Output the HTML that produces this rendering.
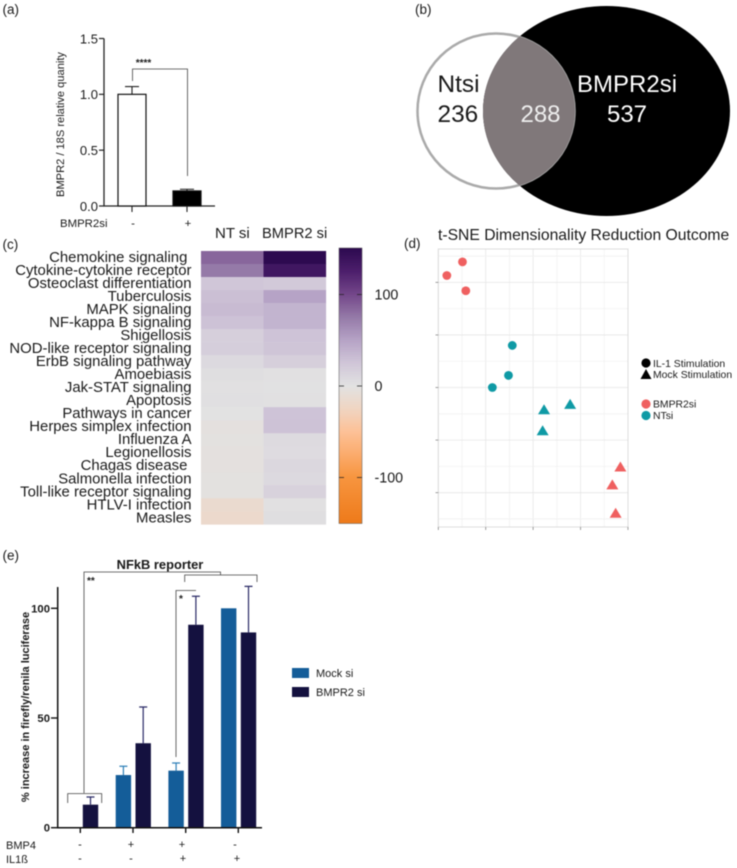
<!DOCTYPE html>
<html>
<head>
<meta charset="utf-8">
<title>BMPR2 figure</title>
<style>
html,body{margin:0;padding:0;background:#fff;}
svg{display:block;filter:blur(0.45px);}
text{font-family:"Liberation Sans",sans-serif;fill:#1a1a1a;}
</style>
</head>
<body>
<svg id="fig" width="737" height="868" viewBox="0 0 737 868" xmlns="http://www.w3.org/2000/svg">
<defs>
<linearGradient id="cbGrad" x1="0" y1="0" x2="0" y2="1"></linearGradient>
<clipPath id="vennClip"><ellipse cx="606.5" cy="111" rx="123.5" ry="105"/></clipPath>
</defs>
<g id="panelA">
<text x="2.5" y="14" font-size="13.5">(a)</text>
<text transform="translate(64,124.5) rotate(-90)" text-anchor="middle" font-size="11.1">BMPR2 / 18S relative quanity</text>
<text x="60" y="227" font-size="11.4">BMPR2si</text>
</g>
<g id="panelB">
<text x="415" y="14" font-size="13.5">(b)</text>
<ellipse cx="606.5" cy="111" rx="123.5" ry="105" fill="#000"/>
<ellipse cx="496" cy="111" rx="78.5" ry="77.5" fill="none" stroke="#aaa" stroke-width="2.5"/>
<ellipse cx="496" cy="111" rx="79" ry="78" fill="#80787a" clip-path="url(#vennClip)"/>
<text x="437.5" y="92" font-size="24.4">Ntsi</text>
<text x="437.5" y="122" font-size="24.4">236</text>
<text x="540.5" y="122" font-size="24" text-anchor="middle" style="fill:#eee">288</text>
<text x="577" y="92" font-size="24" style="fill:#fff">BMPR2si</text>
<text x="627" y="122" font-size="24" text-anchor="middle" style="fill:#fff">537</text>
</g>
<g id="panelC">
<text x="2.5" y="249" font-size="13.5">(c)</text>
<text x="215" y="238" font-size="15">NT si</text>
<text x="262" y="238" font-size="14.7">BMPR2 si</text>
<rect x="339" y="248" width="23" height="275.5" fill="url(#cbGrad)" stroke="#555" stroke-width="0.5"/>
</g>
<g id="panelD">
<text x="404" y="248" font-size="13.5">(d)</text>
<text x="438" y="240" font-size="15.7">t-SNE Dimensionality Reduction Outcome</text>
<circle cx="646" cy="363" r="4.6" fill="#000"/>
<text x="653" y="367" font-size="10.4">IL-1 Stimulation</text>
<path d="M640.5 379 L646 369 L651.5 379 Z" fill="#000"/>
<text x="653" y="378" font-size="10.4">Mock Stimulation</text>
<circle cx="646" cy="404" r="4.6" fill="#ef6060"/>
<text x="653" y="407.5" font-size="10.4">BMPR2si</text>
<circle cx="646" cy="415.5" r="4.6" fill="#0f9aa5"/>
<text x="653" y="419" font-size="10.4">NTsi</text>
</g>
<g id="panelE">
<text x="2.5" y="560" font-size="13.5">(e)</text>
<text x="160" y="569" font-size="12.9" font-weight="bold" text-anchor="middle">NFkB reporter</text>
<text transform="translate(29,707) rotate(-90)" text-anchor="middle" font-size="11" font-weight="bold">% increase in firefly/renila luciferase</text>
<text x="6" y="849" font-size="11">BMP4</text>
<text x="6" y="863" font-size="11">IL1ß</text>
<rect x="292" y="668" width="17" height="10" fill="#145d99"/>
<text x="316" y="677" font-size="11">Mock si</text>
<rect x="292" y="687" width="17" height="10" fill="#14113f"/>
<text x="316" y="696" font-size="11">BMPR2 si</text>
<path d="M84 793 V572 H220.5 V575" fill="none" stroke="#444" stroke-width="0.8"/>
<path d="M67.7 803 V793.6 H101.7 V803" fill="none" stroke="#444" stroke-width="0.8"/>
<path d="M184.7 582 V575 H257 V582" fill="none" stroke="#444" stroke-width="0.8"/>
<path d="M176 757 V590.5 H196" fill="none" stroke="#444" stroke-width="0.8"/>
<text x="87" y="584" font-size="10" font-weight="bold">**</text>
<text x="179" y="602" font-size="10" font-weight="bold">*</text>
</g>
</svg>
<script>
// Panel (a)
const aCategories = ['-', '+'];
const aValues = [1.0, 0.135];
const aErrors = [0.07, 0.015];
const aTicks = ['0.0', '0.5', '1.0', '1.5'];
// Panel (c)
const heatRows = ['Chemokine signaling ', 'Cytokine-cytokine receptor', 'Osteoclast differentiation', 'Tuberculosis', 'MAPK signaling', 'NF-kappa B signaling', 'Shigellosis', 'NOD-like receptor signaling', 'ErbB signaling pathway', 'Amoebiasis', 'Jak-STAT signaling', 'Apoptosis', 'Pathways in cancer', 'Herpes simplex infection', 'Influenza A', 'Legionellosis', 'Chagas disease ', 'Salmonella infection', 'Toll-like receptor signaling', 'HTLV-I infection', 'Measles'];
const heatNT = [85, 75, 25, 30, 33, 28, 17, 18, 8, 4, 2, 3, 0, -3, -2, -3, -3, -2, -2, -15, -17];
const heatBMPR2 = [150, 135, 22, 50, 38, 38, 27, 26, 17, 2, 1, 2, 27, 28, 7, 6, 10, 8, 14, 2, 4];
const colorbarTicks = [100, 0, -100];
const colormapValues = [150, 125, 100, 75, 50, 25, 0, -25, -50, -75, -100, -150];
const colormapColors = ['#2d0a50', '#4d1f6c', '#74478a', '#957aa8', '#b6a3c6', '#d0c6d8', '#e2e2e2', '#f0d5c2', '#fdc197', '#fbab6c', '#f7953f', '#ee7a1a'];
// Panel (d)
const tsneX = [0.51, 0.18, 0.58, 1.56, 1.48, 1.14, 2.23, 2.78, 2.20, 3.84, 3.67, 3.74];
const tsneY = [4.39, 4.13, 3.84, 2.80, 2.23, 2.00, 1.58, 1.68, 1.18, 0.49, 0.15, -0.39];
const tsneGroup = ['BMPR2si', 'BMPR2si', 'BMPR2si', 'NTsi', 'NTsi', 'NTsi', 'NTsi', 'NTsi', 'NTsi', 'BMPR2si', 'BMPR2si', 'BMPR2si'];
const tsneShape = ['il1', 'il1', 'il1', 'il1', 'il1', 'il1', 'mock', 'mock', 'mock', 'mock', 'mock', 'mock'];
// Panel (e)
const eBmp4 = ['-', '+', '+', '-'];
const eIl1b = ['-', '-', '+', '+'];
const eMock = [0, 24, 26, 100];
const eMockErr = [0, 4, 3.5, 0];
const eDark = [10.5, 38.5, 92.5, 89];
const eDarkErr = [3.5, 16.5, 13, 21];
const eTicks = [0, 50, 100];

const NS = 'http://www.w3.org/2000/svg';
function mk(parentId, tag, attrs, txt) {
  const el = document.createElementNS(NS, tag);
  for (const k in attrs) el.setAttribute(k, attrs[k]);
  if (txt !== undefined) el.textContent = txt;
  document.getElementById(parentId).appendChild(el);
  return el;
}
let el;

// ---------- Panel a ----------
const aY = v => 206 - v * 111.67;
const aBarX = [118, 173];
const aBarW = 28;
el = mk('panelA', 'path', {d: 'M104 ' + aY(1.5) + ' V' + aY(0) + ' H215', fill: 'none', stroke: '#222', 'stroke-width': 1.3});


aTicks.forEach(t => {
  const y = aY(parseFloat(t));
  el = mk('panelA', 'line', {x1: 99, x2: 104, y1: y, y2: y, stroke: '#222', 'stroke-width': 1.2});
  
  
  el = mk('panelA', 'text', {x: 98, y: y + 4.8, 'text-anchor': 'end', 'font-size': 13}, t);
  
  
});
aCategories.forEach((c, i) => {
  const x = aBarX[i], mid = x + aBarW / 2, top = aY(aValues[i]), errTop = aY(aValues[i] + aErrors[i]);
  el = mk('panelA', 'path', {d: 'M' + mid + ' ' + top + ' V' + errTop + ' M' + (mid - 7) + ' ' + errTop + ' H' + (mid + 7), stroke: '#222', 'stroke-width': 1.1, fill: 'none'});
  
  
  el = mk('panelA', 'rect', {x: x, y: top, width: aBarW, height: aY(0) - top, fill: i === 0 ? '#fff' : '#000', stroke: '#111', 'stroke-width': 1.2});
  
  
  el = mk('panelA', 'line', {x1: mid, x2: mid, y1: 206, y2: 212, stroke: '#222', 'stroke-width': 1.1});
  
  
  el = mk('panelA', 'text', {x: mid + 1, y: 227, 'text-anchor': 'middle', 'font-size': 11.4}, c);
  
  
});
el = mk('panelA', 'path', {d: 'M132.5 81 V69 H187.5 V176', fill: 'none', stroke: '#444', 'stroke-width': 0.8});


el = mk('panelA', 'text', {x: 143.5, y: 66, 'text-anchor': 'middle', 'font-size': 10, 'font-weight': 'bold'}, '****');



// ---------- Panel c ----------
function hexRgb(h) { return [1, 3, 5].map(i => parseInt(h.substr(i, 2), 16)); }
function heatColor(v) {
  const vs = colormapValues;
  if (v >= vs[0]) return colormapColors[0];
  for (let i = 1; i < vs.length; i++) {
    if (v >= vs[i]) {
      const t = (v - vs[i]) / (vs[i - 1] - vs[i]);
      const a = hexRgb(colormapColors[i]), b = hexRgb(colormapColors[i - 1]);
      return 'rgb(' + a.map((c, k) => Math.round(c + (b[k] - c) * t)).join(',') + ')';
    }
  }
  return colormapColors[colormapColors.length - 1];
}
const grad = document.getElementById('cbGrad');
const cbY = v => 386 - v * 0.915;
colormapValues.forEach((v, i) => {
  const s = document.createElementNS(NS, 'stop');
  s.setAttribute('offset', (cbY(v) - 248) / 275.5);
  s.setAttribute('stop-color', colormapColors[i]);
  grad.appendChild(s);
});
const heatTop = 251, rowH = 13.015;
const heatColsX = [201, 263.5];
const heatColW = 62.3;
heatRows.forEach((name, r) => {
  const y = heatTop + r * rowH;
  [heatNT, heatBMPR2].forEach((col, c) => {
    el = mk('panelC', 'rect', {x: heatColsX[c], y: y, width: heatColW + 0.3, height: rowH + 0.3, fill: heatColor(col[r])});
    
    
  });
  el = mk('panelC', 'text', {x: 191.5, y: y + 11, 'text-anchor': 'end', 'font-size': 14.9, style: 'white-space:pre'}, name);
  
  
});
colorbarTicks.forEach(t => {
  const y = cbY(t);
  el = mk('panelC', 'path', {d: 'M339 ' + y + ' h5 M357 ' + y + ' h5', stroke: '#222', 'stroke-width': 0.8});
  
  
  el = mk('panelC', 'text', {x: 374.5, y: y + 5, 'font-size': 14.3}, String(t));
  
  
});

// ---------- Panel d ----------
const tX = d => 438.3 + d * 47.42;
const tY = d => 492.67 - d * 52.58;
const tsneFirst = document.querySelector('#panelD circle');
function gridLine(x1, y1, x2, y2, col) {
  el = mk('panelD', 'line', {x1, y1, x2, y2, stroke: col, 'stroke-width': 0.8});
  
  
  document.getElementById('panelD').insertBefore(el, tsneFirst);
}
for (let i = 0; i <= 8; i++) gridLine(tX(i / 2), 249, tX(i / 2), 527, i % 2 ? '#f1f1f1' : '#e6e6e6');
for (let i = -1; i <= 9; i++) gridLine(438, tY(i / 2), 628, tY(i / 2), i % 2 ? '#f1f1f1' : '#e6e6e6');
el = mk('panelD', 'rect', {x: 438.3, y: 249, width: 189.7, height: 278, fill: 'none', stroke: '#ddd', 'stroke-width': 1});


for (let i = 0; i <= 4; i++) {
  el = mk('panelD', 'line', {x1: tX(i), x2: tX(i), y1: 527, y2: 530, stroke: '#777', 'stroke-width': 0.7});
  
  
}
for (let i = 0; i <= 4; i++) {
  el = mk('panelD', 'line', {x1: 435.5, x2: 438.3, y1: tY(i), y2: tY(i), stroke: '#777', 'stroke-width': 0.7});
  
  
}
tsneX.forEach((v, i) => {
  const x = tX(v), y = tY(tsneY[i]);
  const col = tsneGroup[i] === 'BMPR2si' ? '#ef6060' : '#0f9aa5';
  if (tsneShape[i] === 'il1') {
    el = mk('panelD', 'circle', {cx: x, cy: y, r: 4.4, fill: col});
  } else {
    el = mk('panelD', 'path', {d: 'M' + (x - 6) + ' ' + (y + 4.6) + ' L' + x + ' ' + (y - 5.4) + ' L' + (x + 6) + ' ' + (y + 4.6) + ' Z', fill: col});
  }
  
  
});

// ---------- Panel e ----------
const eY = v => 827.7 - v * 2.194;
const eTickX = [80.3, 133, 185.7, 238.3];
const eRow1X = [80, 131, 182, 235];
const eRow2X = [80, 131, 183, 237];
const barW = 15.4;
eTicks.forEach(t => {
  const y = eY(t);
  el = mk('panelE', 'line', {x1: 51, x2: 58, y1: y, y2: y, stroke: '#111', 'stroke-width': 1.4});
  
  
  el = mk('panelE', 'text', {x: 50, y: y + 4, 'text-anchor': 'end', 'font-size': 11.3, 'font-weight': 'bold'}, String(t));
  
  
});
eMock.forEach((v, i) => {
  const cx = eTickX[i];
  const mx = cx - 17.3, dx = cx + 2.5;
  if (v > 0) {
    const top = eY(v);
    if (eMockErr[i] > 0) {
      const e = eY(v + eMockErr[i]);
      el = mk('panelE', 'path', {d: 'M' + (mx + barW / 2) + ' ' + top + ' V' + e + ' M' + (mx + barW / 2 - 4) + ' ' + e + ' h8', stroke: '#2f80b8', 'stroke-width': 1.2, fill: 'none'});
      
      
    }
    el = mk('panelE', 'rect', {x: mx, y: top, width: barW, height: eY(0) - top, fill: '#145d99'});
    
    
  }
  const dTop = eY(eDark[i]), dE = eY(eDark[i] + eDarkErr[i]);
  el = mk('panelE', 'path', {d: 'M' + (dx + barW / 2) + ' ' + dTop + ' V' + dE + ' M' + (dx + barW / 2 - 4) + ' ' + dE + ' h8', stroke: '#2a2a66', 'stroke-width': 1.2, fill: 'none'});
  
  
  el = mk('panelE', 'rect', {x: dx, y: dTop, width: barW, height: eY(0) - dTop, fill: '#14113f'});
  
  
  el = mk('panelE', 'line', {x1: cx, x2: cx, y1: 827, y2: 833, stroke: '#111', 'stroke-width': 1.4});
  
  
  el = mk('panelE', 'text', {x: eRow1X[i], y: 848, 'text-anchor': 'middle', 'font-size': 11}, eBmp4[i]);
  
  
  el = mk('panelE', 'text', {x: eRow2X[i], y: 862, 'text-anchor': 'middle', 'font-size': 11}, eIl1b[i]);
  
  
});
el = mk('panelE', 'path', {d: 'M57.7 587 V827.7 H262', fill: 'none', stroke: '#111', 'stroke-width': 1.5});


</script>
</body>
</html>
